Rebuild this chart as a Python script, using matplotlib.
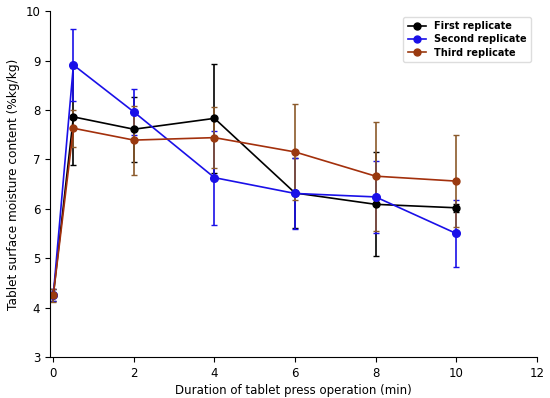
import matplotlib
matplotlib.use("Agg")
import matplotlib.pyplot as plt
from matplotlib.lines import Line2D

x = [0, 0.5, 2, 4, 6, 8, 10]
first = [4.25, 7.86, 7.61, 7.83, 6.32, 6.09, 6.02]
first_err = [0.12, 0.98, 0.66, 1.10, 0.70, 1.05, 0.08]
second = [4.25, 8.91, 7.96, 6.63, 6.31, 6.24, 5.50]
second_err = [0.12, 0.72, 0.46, 0.95, 0.72, 0.73, 0.68]
third = [4.25, 7.63, 7.39, 7.44, 7.15, 6.66, 6.56]
third_err = [0.13, 0.37, 0.70, 0.62, 0.97, 1.10, 0.93]
labels = ["First replicate", "Second replicate", "Third replicate"]

fig = plt.figure(figsize=(5.5, 3.98), dpi=100)
ax = fig.add_axes([0.091, 0.103, 0.885, 0.869])

c1, c2, c3 = "black", "#1a10e8", "#a3300c"
ax.errorbar(x, first, yerr=first_err, color=c1, ecolor=c1, marker="o",
            markersize=5, linewidth=1.2, elinewidth=1.2, capsize=2.5)
ax.errorbar(x, second, yerr=second_err, color=c2, ecolor=c2, marker="o",
            markersize=5.5, linewidth=1.2, elinewidth=1.2, capsize=2.5)
ax.errorbar(x, third, yerr=third_err, color=c3, ecolor="#8b5a2b", marker="o",
            markersize=5, linewidth=1.2, elinewidth=1.2, capsize=2.5,
            markerfacecolor="#9a3a10", markeredgecolor="#9a3a10")

ax.set_xlim(-0.08, 12)
ax.set_ylim(3, 10)
ax.set_xticks([0, 2, 4, 6, 8, 10, 12])
ax.set_yticks([3, 4, 5, 6, 7, 8, 9, 10])
ax.spines["top"].set_visible(False)
ax.spines["right"].set_visible(False)
ax.tick_params(labelsize=8.5, length=3.5, width=0.8)
ax.set_xlabel("Duration of tablet press operation (min)", fontsize=8.5, labelpad=3)
ax.set_ylabel("Tablet surface moisture content (%kg/kg)", fontsize=8.7, labelpad=4)

handles = [Line2D([], [], color=c, marker="o", markersize=5, linewidth=1.2)
           for c in (c1, c2, "#9a3a10")]
ax.legend(handles, labels, loc="upper right", prop={"weight": "bold", "size": 7},
          framealpha=1, edgecolor="#dddddd", handlelength=1.9, handletextpad=0.8,
          borderpad=0.45, labelspacing=0.35, bbox_to_anchor=(0.998, 0.998))

fig.savefig("out.png", dpi=100)
